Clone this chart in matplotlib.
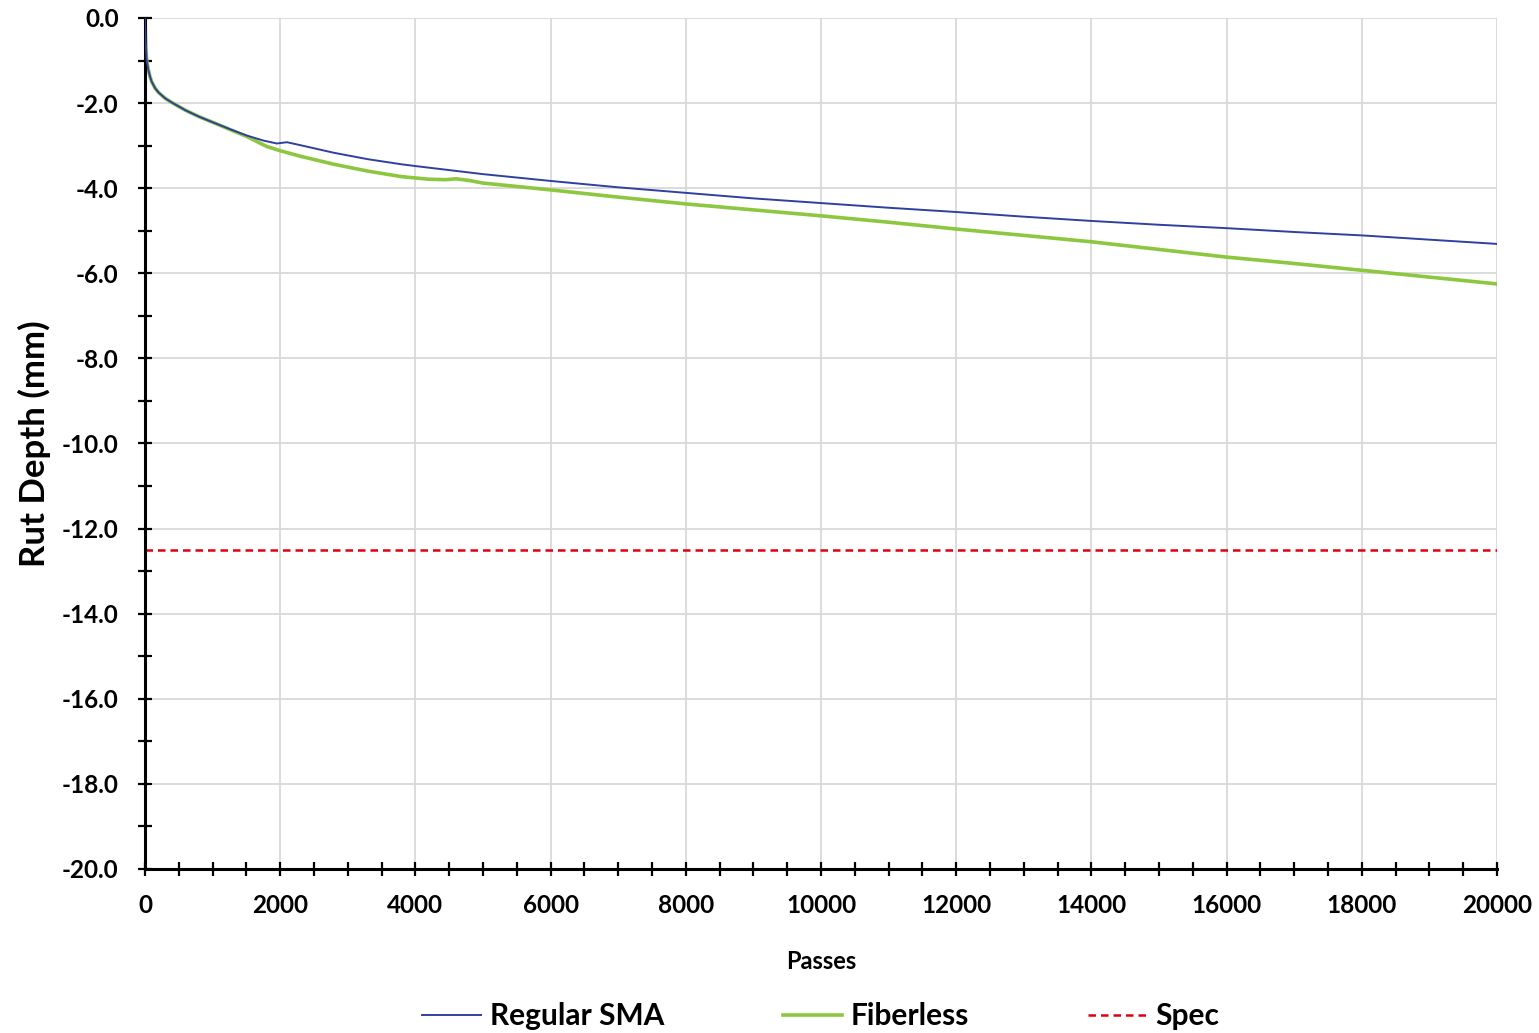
import numpy as np
import matplotlib
matplotlib.use('Agg')
import matplotlib.pyplot as plt
from matplotlib.ticker import MultipleLocator, FormatStrFormatter

plt.rcParams['font.family'] = ['Lato', 'DejaVu Sans']
plt.rcParams['axes.unicode_minus'] = False

# Regular SMA rut depth (mm) vs passes
sma_passes = [0, 10, 25, 50, 75, 100, 150, 200, 300, 400, 600, 800, 1000, 1300, 1500,
              1750, 1950, 2100, 2300, 2800, 3300, 3800, 4000, 5000, 6000, 7000, 8000,
              9000, 10000, 11000, 12000, 13000, 14000, 15000, 16000, 17000, 18000,
              19000, 20000]
sma_rut = [0.0, -0.55, -1.0, -1.22, -1.38, -1.5, -1.65, -1.75, -1.89, -1.99, -2.17,
           -2.32, -2.45, -2.64, -2.76, -2.88, -2.95, -2.92, -2.99, -3.17, -3.32, -3.44,
           -3.48, -3.67, -3.83, -3.98, -4.11, -4.24, -4.35, -4.46, -4.56, -4.67, -4.77,
           -4.86, -4.94, -5.03, -5.11, -5.21, -5.31]

# Fiberless rut depth (mm) vs passes
fib_passes = [0, 10, 25, 50, 75, 100, 150, 200, 300, 400, 600, 800, 1000, 1300, 1500,
              1800, 2000, 2300, 2800, 3300, 3800, 4200, 4450, 4600, 4800, 5000, 6000,
              7000, 8000, 9000, 10000, 11000, 12000, 13000, 14000, 15000, 16000, 17000,
              18000, 19000, 20000]
fib_rut = [0.0, -0.55, -1.0, -1.22, -1.38, -1.5, -1.65, -1.75, -1.89, -1.99, -2.17,
           -2.32, -2.45, -2.65, -2.78, -3.02, -3.12, -3.25, -3.44, -3.6, -3.73, -3.79,
           -3.8, -3.78, -3.82, -3.88, -4.04, -4.21, -4.37, -4.51, -4.65, -4.8, -4.96,
           -5.11, -5.26, -5.44, -5.62, -5.77, -5.93, -6.09, -6.25]

# Spec limit
spec_passes = [0, 20000]
spec_rut = [-12.5, -12.5]

fig = plt.figure(figsize=(15.39, 10.33), dpi=100)
ax = fig.add_axes([0.0942, 0.1588, 0.8785, 0.8238])

ax.plot(sma_passes, sma_rut, color='#3040A0', lw=1.4, label='Regular SMA', zorder=3)
ax.plot(fib_passes, fib_rut, color='#8DC63F', lw=2.6, label='Fiberless', zorder=2)
ax.plot(spec_passes, spec_rut, color='#E00010', lw=1.8, ls=(0, (3, 2)), label='Spec', zorder=2)

ax.set_xlim(0, 20000)
ax.set_ylim(-20, 0)
ax.xaxis.set_major_locator(MultipleLocator(2000))
ax.xaxis.set_minor_locator(MultipleLocator(500))
ax.yaxis.set_major_locator(MultipleLocator(2))
ax.yaxis.set_minor_locator(MultipleLocator(1))
ax.yaxis.set_major_formatter(FormatStrFormatter('%.1f'))

ax.grid(True, which='major', color='#D9D9D9', lw=1.3, zorder=0)
ax.set_axisbelow(True)

for s in ['top', 'right']:
    ax.spines[s].set_visible(False)
for s in ['left', 'bottom']:
    ax.spines[s].set_linewidth(2.2)
    ax.spines[s].set_color('black')

ax.tick_params(which='both', direction='inout', length=10, width=1.6, color='black')
ax.tick_params(axis='x', which='major', labelsize=17.5, pad=13)
ax.tick_params(axis='y', which='major', labelsize=17.5, pad=14)
for lab in ax.get_xticklabels() + ax.get_yticklabels():
    lab.set_fontweight('bold')

ax.set_xlabel('Passes', fontsize=17, fontweight='bold', labelpad=24)
ax.set_ylabel('Rut Depth (mm)', fontsize=25, fontweight='bold', labelpad=8)

leg = ax.legend(loc='center', bbox_to_anchor=(0.5, -0.173), ncol=3, frameon=False,
                fontsize=21.5, handlelength=1.95, handletextpad=0.3, columnspacing=4.0)
for t in leg.get_texts():
    t.set_fontweight('bold')

fig.savefig('out.png', dpi=100)
